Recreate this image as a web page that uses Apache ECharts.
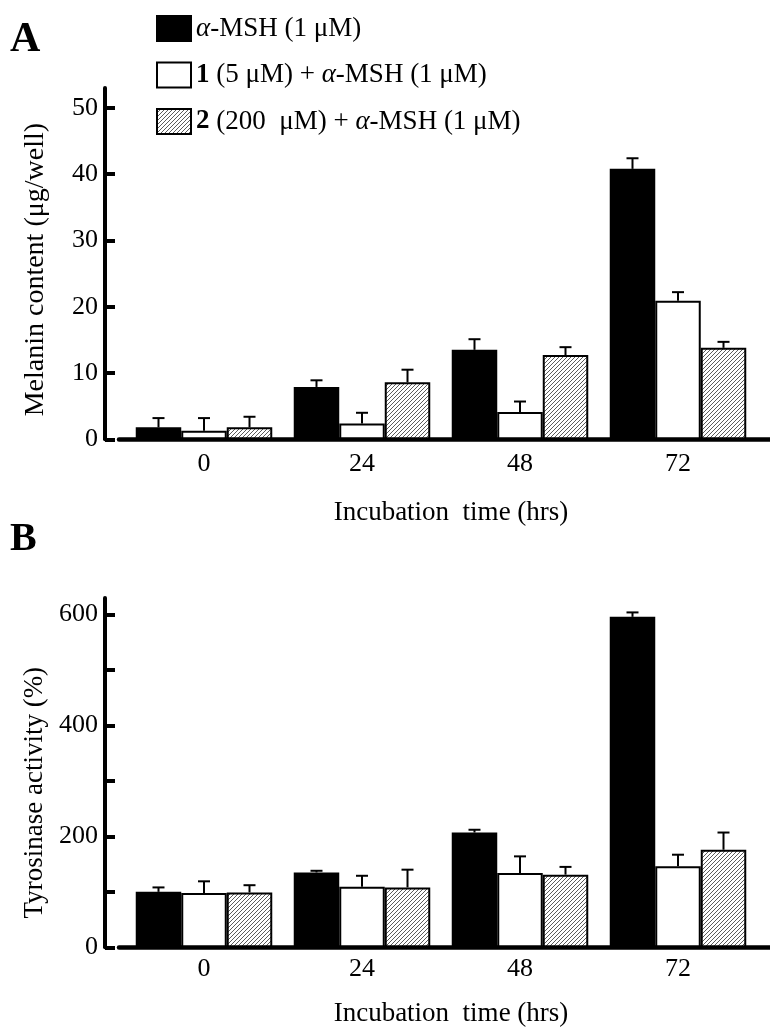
<!DOCTYPE html>
<html><head><meta charset="utf-8">
<script src="https://cdn.jsdelivr.net/npm/echarts@6/dist/echarts.min.js"></script>
<style>html,body{margin:0;padding:0;background:#fff}#c{width:770px;height:1031px}</style>
</head><body><div id="c"></div>
<script>
// ---- data ----
const categories = ['0', '24', '48', '72'];
const seriesNames = ['α-MSH (1 μM)', '1 (5 μM) + α-MSH (1 μM)', '2 (200 μM) + α-MSH (1 μM)'];
const melaninMSH = [1.8, 7.9, 13.5, 40.8];
const melaninMSHErr = [1.4, 1.0, 1.6, 1.6];
const melanin1 = [1.3, 2.4, 4.1, 20.9];
const melanin1Err = [1.9, 1.6, 1.6, 1.3];
const melanin2 = [1.8, 8.6, 12.7, 13.8];
const melanin2Err = [1.6, 1.9, 1.2, 0.9];
const tyrMSH = [100, 135, 207, 596];
const tyrMSHErr = [8, 3, 5, 8];
const tyr1 = [98, 109, 134, 146];
const tyr1Err = [21, 20, 30, 21];
const tyr2 = [99, 108, 131, 176];
const tyr2Err = [13, 32, 14, 31];
const melaninTicks = [0, 10, 20, 30, 40, 50];
const tyrLabelTicks = [0, 200, 400, 600];
const tyrTicks = [0, 100, 200, 300, 400, 500, 600];

// ---- styles ----
const FONT = 'Liberation Serif';
const BAR_FRAC = 0.288;
const CAP = 6;

function hatchCanvas() {
  const c = document.createElement('canvas');
  c.width = 4; c.height = 4;
  const g = c.getContext('2d');
  g.fillStyle = '#fff'; g.fillRect(0, 0, 4, 4);
  g.strokeStyle = '#4a4a4a'; g.lineWidth = 0.9;
  g.beginPath();
  g.moveTo(0, 4); g.lineTo(4, 0);
  g.moveTo(-1, 1); g.lineTo(1, -1);
  g.moveTo(3, 5); g.lineTo(5, 3);
  g.stroke();
  return c;
}
const hatch = { image: hatchCanvas(), repeat: 'repeat' };
const fills = ['#000', '#fff', hatch];

function barSeries(i, vals, xi, yi) {
  return {
    type: 'bar', name: seriesNames[i], xAxisIndex: xi, yAxisIndex: yi,
    data: vals, barWidth: (BAR_FRAC * 100) + '%', barGap: '0%',
    itemStyle: { color: fills[i], borderColor: '#000', borderWidth: 2 },
    emphasis: { disabled: true }, z: 3
  };
}
function errSeries(vals, errs, k, xi, yi) {
  return {
    type: 'custom', xAxisIndex: xi, yAxisIndex: yi, silent: true, z: 4,
    data: vals.map((v, i) => [i, v, errs[i]]),
    renderItem(params, api) {
      const band = api.size([1, 0])[0];
      const p0 = api.coord([api.value(0), api.value(1)]);
      const p1 = api.coord([api.value(0), api.value(1) + api.value(2)]);
      const x = p0[0] + k * band * BAR_FRAC;
      return { type: 'group', children: [
        { type: 'line', shape: { x1: x, y1: p0[1], x2: x, y2: p1[1] }, style: { stroke: '#000', lineWidth: 2 } },
        { type: 'line', shape: { x1: x - CAP, y1: p1[1], x2: x + CAP, y2: p1[1] }, style: { stroke: '#000', lineWidth: 2 } }
      ] };
    }
  };
}

const tick = { fontFamily: FONT, fontSize: 26, color: '#000' };
const txt = { fontFamily: FONT, fontSize: 27, color: '#000' };

function mainX(gi, nameGap, margin) {
  return {
    type: 'category', gridIndex: gi, data: categories,
    axisLine: { show: false }, axisTick: { show: false },
    axisLabel: Object.assign({ margin: margin }, tick),
    name: 'Incubation  time (hrs)', nameLocation: 'middle', nameGap: nameGap,
    nameTextStyle: Object.assign({ padding: [0, 0, 0, 20] }, txt)
  };
}
function frameX(gi) {
  return {
    type: 'value', gridIndex: gi, min: 0, max: 1,
    axisLine: { onZero: false, lineStyle: { color: '#000', width: 4.5 } },
    axisTick: { show: false }, axisLabel: { show: false }, splitLine: { show: false }
  };
}
function mainY(gi, max, ticks, labels, name, padRight, fs) {
  return {
    type: 'value', gridIndex: gi, min: 0, max: max, offset: 20,
    axisLine: { show: true, lineStyle: { color: '#000', width: 4 } },
    axisTick: { show: true, inside: true, length: 10, lineStyle: { color: '#000', width: 4 }, customValues: ticks },
    axisLabel: Object.assign({ margin: 7, customValues: labels }, tick),
    splitLine: { show: false },
    name: name, nameLocation: 'middle', nameGap: 55,
    nameTextStyle: Object.assign({}, txt, { fontSize: fs, padding: [0, padRight, 0, 0] })
  };
}

const chart = echarts.init(document.getElementById('c'), null, { renderer: 'canvas' });
chart.setOption({
  animation: false,
  backgroundColor: '#fff',
  title: [
    { text: 'A', left: 10, top: 19, padding: 0, textStyle: { fontFamily: FONT, fontSize: 42, fontWeight: 'bold', color: '#000' } },
    { text: 'B', left: 10, top: 520, padding: 0, textStyle: { fontFamily: FONT, fontSize: 40, fontWeight: 'bold', color: '#000' } }
  ],
  legend: {
    data: seriesNames, orient: 'vertical', left: 156, top: 15, padding: 0,
    icon: 'rect', itemWidth: 34, itemHeight: 25, itemGap: 19.5,
    selectedMode: false,
    textStyle: Object.assign({ lineHeight: 25, rich: {
      i: { fontFamily: FONT, fontSize: 27, fontStyle: 'italic', lineHeight: 25 },
      b: { fontFamily: FONT, fontSize: 27, fontWeight: 'bold', lineHeight: 25 }
    } }, txt),
    formatter: function (n) {
      if (n === seriesNames[0]) return '{i|α}-MSH (1 μM)';
      if (n === seriesNames[1]) return '{b|1} (5 μM) + {i|α}-MSH (1 μM)';
      return '{b|2} (200  μM) + {i|α}-MSH (1 μM)';
    }
  },
  grid: [
    { left: 125, right: 13, top: 88, height: 351.3 },
    { left: 119, right: 0, top: 88, height: 351.3 },
    { left: 125, right: 13, top: 598, height: 349.3 },
    { left: 119, right: 0, top: 598, height: 349.3 }
  ],
  xAxis: [mainX(0, 60, 12), frameX(1), mainX(2, 53, 9), frameX(3)],
  yAxis: [
    mainY(0, 53, melaninTicks, melaninTicks, 'Melanin content (μg/well)', 12, 28),
    { type: 'value', gridIndex: 1, show: false },
    mainY(2, 630, tyrTicks, tyrLabelTicks, 'Tyrosinase activity (%)', 40, 27),
    { type: 'value', gridIndex: 3, show: false }
  ],
  series: [
    barSeries(0, melaninMSH, 0, 0), barSeries(1, melanin1, 0, 0), barSeries(2, melanin2, 0, 0),
    errSeries(melaninMSH, melaninMSHErr, -1, 0, 0), errSeries(melanin1, melanin1Err, 0, 0, 0), errSeries(melanin2, melanin2Err, 1, 0, 0),
    barSeries(0, tyrMSH, 2, 2), barSeries(1, tyr1, 2, 2), barSeries(2, tyr2, 2, 2),
    errSeries(tyrMSH, tyrMSHErr, -1, 2, 2), errSeries(tyr1, tyr1Err, 0, 2, 2), errSeries(tyr2, tyr2Err, 1, 2, 2)
  ]
});
</script></body></html>
